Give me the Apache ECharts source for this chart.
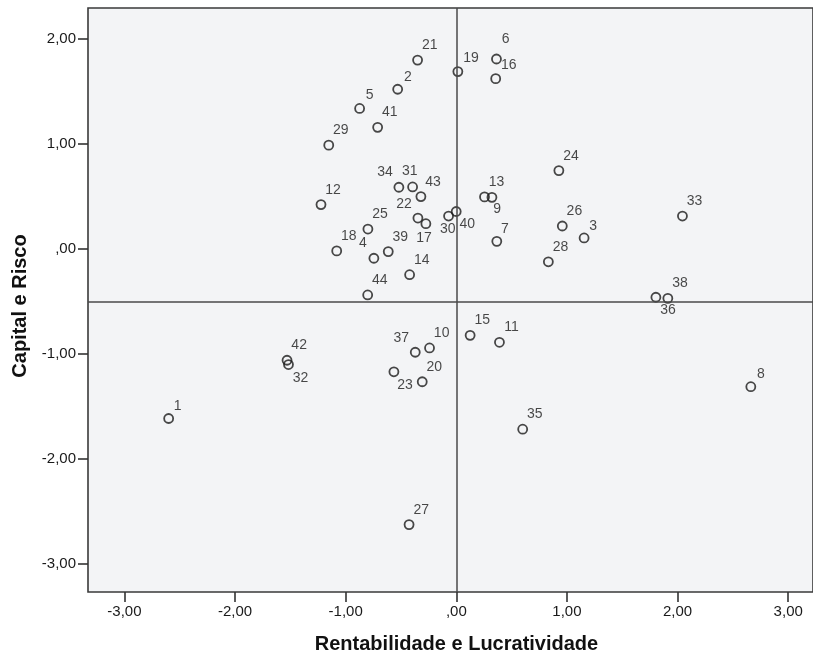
<!DOCTYPE html>
<html>
<head>
<meta charset="utf-8">
<title>Capital e Risco x Rentabilidade e Lucratividade</title>
<script src="https://cdn.jsdelivr.net/npm/echarts@6/dist/echarts.min.js"></script>
<style>
  html, body { margin: 0; padding: 0; background: #fff; }
  #main { width: 813px; height: 659px; }
</style>
</head>
<body>
<!-- grafico de dispersao -->
<div id="main"></div>
<script>
// dados
var ids = [1, 2, 3, 4, 5, 6, 7, 8, 9, 10, 11, 12, 13, 14, 15, 16, 17, 18, 19, 20, 21, 22,
  23, 24, 25, 26, 27, 28, 29, 30, 31, 32, 33, 34, 35, 36, 37, 38, 39, 40, 41, 42, 43, 44]
var rentabilidade = [-2.60, -0.53, 1.155, -0.745, -0.874, 0.363, 0.366, 2.662, 0.322, -0.242,
  0.390, -1.223, 0.255, -0.422, 0.125, 0.356, -0.275, -1.081, 0.014, -0.308, -0.350, -0.347,
  -0.564, 0.927, -0.799, 0.958, -0.427, 0.832, -1.153, -0.070, -0.395, -1.517, 2.044, -0.519,
  0.600, 1.804, -0.371, 1.912, -0.615, -0.001, -0.711, -1.530, -0.320, -0.801]
var capitalRisco = [-1.617, 1.520, 0.103, -0.090, 1.337, 1.808, 0.071, -1.314, 0.490, -0.945,
  -0.891, 0.421, 0.494, -0.247, -0.825, 1.621, 0.239, -0.020, 1.688, -1.267, 1.798, 0.293,
  -1.172, 0.745, 0.188, 0.217, -2.628, -0.124, 0.987, 0.312, 0.589, -1.103, 0.312, 0.586,
  -1.719, -0.462, -0.986, -0.472, -0.027, 0.355, 1.157, -1.062, 0.497, -0.440]
var xTicks = [-3, -2, -1, 0, 1, 2, 3]
var yTicks = [-3, -2, -1, 0, 1, 2]
var refX = 0
var refY = -0.5

// posicao dos rotulos em px a partir do ponto (padrao: acima a direita)
var symSize = 9
var defaultOffset = [13, -14]
var labelOffsets = {
  1: [10, -11], 2: [11, -11], 3: [10, -11], 4: [-10, -14], 5: [11, -12], 6: [10, -19],
  7: [9, -11], 8: [11, -12], 9: [6, 13], 16: [14, -13], 17: [-1, 15], 19: [14, -13],
  22: [-13, -13], 23: [12, 14], 30: [0, 14], 31: [-2, -15], 32: [13, 14], 34: [-13, -14],
  36: [13, 14], 37: [-13, -13], 40: [12, 14]
}

// formato SPSS: 1,00 / ,00 / -1,00
function fmt(v) {
  var s = v.toFixed(2).replace('.', ',')
  return s.replace(/^(-?)0,/, '$1,')
}

var points = ids.map(function (id, i) {
  var off = labelOffsets[id] || defaultOffset
  return {
    value: [rentabilidade[i], capitalRisco[i], id],
    label: { position: [symSize / 2 + off[0], symSize / 2 + off[1]] }
  }
})

var font = 'Liberation Sans, Arial, sans-serif'
var myChart = echarts.init(document.getElementById('main'))
var option = {
  backgroundColor: '#fff',
  animation: false,
  grid: {
    left: 88,
    right: -1,
    top: 8,
    bottom: 64,
    show: true,
    backgroundColor: '#f3f4f6',
    borderColor: '#3a3a3a',
    borderWidth: 1.6
  },
  xAxis: {
    type: 'value',
    min: -3.329,
    max: 3.224,
    name: 'Rentabilidade e Lucratividade',
    nameLocation: 'middle',
    nameGap: 42,
    nameTextStyle: { fontFamily: font, fontWeight: 'bold', fontSize: 20, color: '#111', padding: [0, 0, 0, 12] },
    axisLine: { show: false, onZero: false },
    splitLine: { show: false },
    axisTick: { show: true, length: 10, customValues: xTicks, lineStyle: { color: '#333', width: 1.6 } },
    axisLabel: { customValues: xTicks, margin: 12, fontFamily: font, fontSize: 15, color: '#1a1a1a', formatter: fmt }
  },
  yAxis: {
    type: 'value',
    min: -3.27,
    max: 2.294,
    name: 'Capital e Risco',
    nameLocation: 'middle',
    nameRotate: 90,
    nameGap: 49,
    nameTextStyle: { fontFamily: font, fontWeight: 'bold', fontSize: 20, color: '#111', padding: [0, 12, 0, 0] },
    axisLine: { show: false, onZero: false },
    splitLine: { show: false },
    axisTick: { show: true, length: 10, customValues: yTicks, lineStyle: { color: '#333', width: 1.6 } },
    axisLabel: { customValues: yTicks, margin: 12, fontFamily: font, fontSize: 15, color: '#1a1a1a', formatter: fmt }
  },
  series: [
    {
      type: 'scatter',
      symbol: 'circle',
      symbolSize: symSize,
      itemStyle: { color: 'rgba(0,0,0,0)', borderColor: '#1a1a1a', borderWidth: 1.8 },
      label: {
        show: true,
        align: 'center',
        verticalAlign: 'middle',
        fontFamily: font,
        fontSize: 14,
        color: '#1a1a1a',
        formatter: function (p) { return p.value[2] }
      },
      markLine: {
        silent: true,
        symbol: 'none',
        label: { show: false },
        lineStyle: { color: '#4a4a4a', width: 1.5, type: 'solid' },
        data: [{ xAxis: refX }, { yAxis: refY }]
      },
      data: points
    }
  ]
}
myChart.setOption(option)
</script>
</body>
</html>
